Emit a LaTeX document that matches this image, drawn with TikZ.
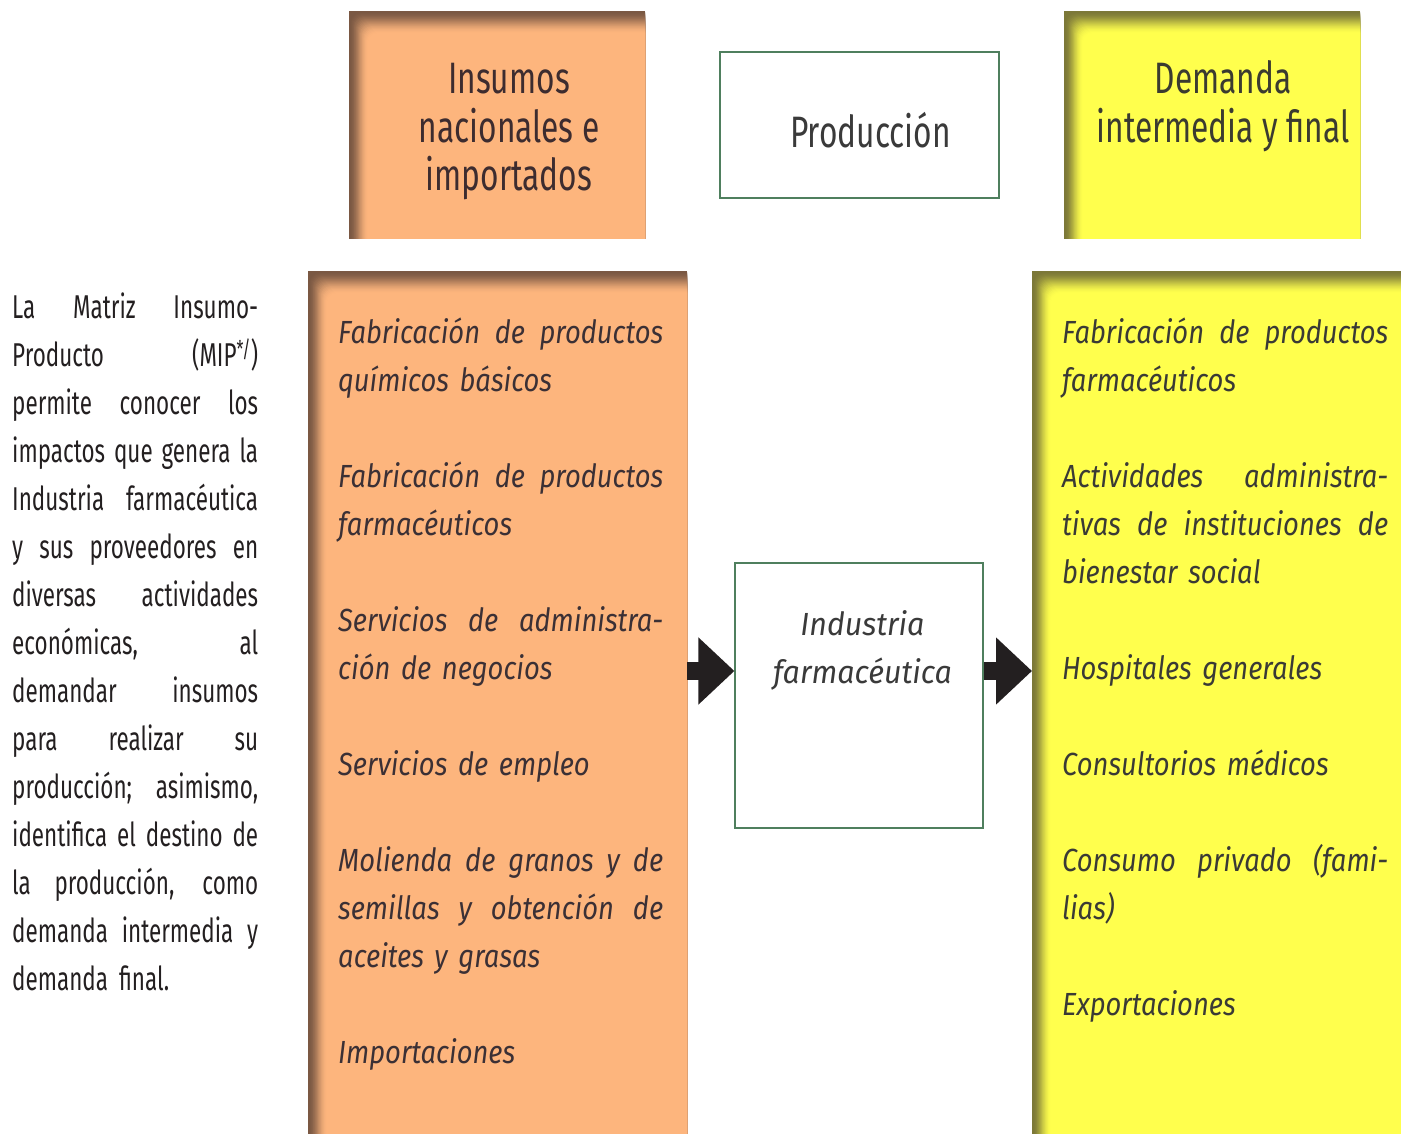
\documentclass[tikz,border=0pt]{standalone}
\usepackage{fontspec}
\setmainfont{Fira Sans}
\newfontfamily\condfont[FakeStretch=0.72]{Fira Sans}
\newfontfamily\parfont[FakeStretch=0.68]{Fira Sans}
\newfontfamily\itfont[FakeStretch=0.855]{Fira Sans}
\newfontfamily\itwide[FakeStretch=0.95]{Fira Sans}
\usetikzlibrary{arrows.meta}
\definecolor{orangefill}{HTML}{FDB57D}
\definecolor{orangedark}{HTML}{7A5843}
\definecolor{yellowfill}{HTML}{FFFF4D}
\definecolor{yellowdark}{HTML}{7C7838}
\definecolor{boxgreen}{HTML}{4F7F5E}
\definecolor{txtbrown}{HTML}{3D2C2F}
\definecolor{txtolive}{HTML}{3B3B30}
\definecolor{txtgray}{HTML}{3A3A3A}
\definecolor{itorange}{HTML}{3B3035}
\definecolor{ityellow}{HTML}{3A3A35}
\definecolor{arrowblack}{HTML}{231F20}
\newcommand\innershadow[6]{%
  \fill[#6] (#1,#2) rectangle (#3,#4);
  \foreach \i in {1,...,22}{%
    \pgfmathsetmacro\tt{\i/22}%
    \pgfmathtruncatemacro\pp{100*(3*\tt*\tt-2*\tt*\tt*\tt)}%
    \fill[#5!\pp!#6] ({#1+0.85*\i},#4) -- ({#1+0.85*\i},{#2+\i+10}) arc[start angle=180,end angle=270,radius=10] -- (#3,{#2+\i}) -- (#3,#4) -- cycle;
  }%
}
\tikzset{
  area/.style={inner sep=0pt, outer sep=0pt},
  frame/.style={draw=boxgreen, line width=1.2pt, fill=white, inner sep=0pt},
  hdrtext/.style={inner sep=0pt, align=center, font=\condfont\fontsize{44}{48}\selectfont},
  partext/.style={inner sep=0pt, anchor=north west, text width=246pt, align=left, text=arrowblack, font=\parfont\fontsize{33}{48}\selectfont},
  itemL/.style={inner sep=0pt, anchor=north west, text width=325pt, align=left, text=itorange, font=\itfont\itshape\fontsize{32}{48}\selectfont},
  itemR/.style={inner sep=0pt, anchor=north west, text width=326pt, align=left, text=ityellow, font=\itfont\itshape\fontsize{32}{48}\selectfont},
  bigarrow/.style={draw=arrowblack, line width=18pt, -{Triangle[length=36pt,width=65pt]}}
}
\newcommand\jl[2]{\leavevmode\strut\hbox to #1pt{\spaceskip=\fontdimen2\font plus 1fil minus \fontdimen4\font\relax #2}}
\begin{document}
\begin{tikzpicture}[x=1pt,y=-1pt]
\useasboundingbox (0,0) rectangle (1401,1134);
% backgrounds with inner shadow
\innershadow{349}{11}{645}{239}{orangefill}{orangedark}
\innershadow{1064}{11}{1360}{239}{yellowfill}{yellowdark}
\innershadow{308}{271}{687}{1134}{orangefill}{orangedark}
\innershadow{1032}{271}{1401}{1134}{yellowfill}{yellowdark}
% named areas
\node[area, minimum width=296pt, minimum height=228pt] (insumos) at (497,125) {};
\node[area, minimum width=296pt, minimum height=228pt] (demanda) at (1212,125) {};
\node[area, minimum width=379pt, minimum height=863pt] (inbig) at (497.5,702.5) {};
\node[area, minimum width=369pt, minimum height=863pt] (dembig) at (1216.5,702.5) {};
\node[frame, minimum width=279pt, minimum height=146pt] (produccion) at (859.5,125) {};
\node[frame, minimum width=248pt, minimum height=265pt] (ind) at (859,695.5) {};
% header texts
\node[hdrtext, text=txtbrown, anchor=north] (insumosT) at (509,59.4) {\strut Insumos\\nacionales e\\importados};
\node[hdrtext, text=txtolive, anchor=north] (demandaT) at (1223,59.4) {\strut Demanda\\intermedia y final};
\node[inner sep=0pt, anchor=base, text=txtgray, font=\condfont\fontsize{44}{48}\selectfont] (produccionT) at (870.5,148) {Producción};
% paragraph
\node[partext] (par) at (12,284.4) {\jl{246}{La Matriz Insumo-}\\
\jl{246}{Producto (MIP\textsuperscript{*/})}\\
\jl{246}{permite conocer los}\\
\jl{246}{impactos que genera la}\\
\jl{246}{Industria farmacéutica}\\
\jl{246}{y sus proveedores en}\\
\jl{246}{diversas actividades}\\
\jl{246}{económicas, al}\\
\jl{246}{demandar insumos}\\
\jl{246}{para realizar su}\\
\jl{246}{producción; asimismo,}\\
\jl{246}{identifica el destino de}\\
\jl{246}{la producción, como}\\
\jl{246}{demanda intermedia y}\\
demanda final.};
% left items
\node[itemL] (l1) at (338,309.4) {\jl{325}{Fabricación de productos}\\químicos básicos};
\node[itemL] (l2) at (338,453.4) {\jl{325}{Fabricación de productos}\\farmacéuticos};
\node[itemL] (l3) at (338,597.4) {\jl{325}{Servicios de administra-}\\ción de negocios};
\node[itemL] (l4) at (338,741.4) {\strut Servicios de empleo};
\node[itemL] (l5) at (338,837.4) {\jl{325}{Molienda de granos y de}\\\jl{325}{semillas y obtención de}\\aceites y grasas};
\node[itemL] (l6) at (338,1029.4) {\strut Importaciones};
% right items
\node[itemR] (r1) at (1062,309.4) {\jl{326}{Fabricación de productos}\\farmacéuticos};
\node[itemR] (r2) at (1062,453.4) {\jl{326}{Actividades administra-}\\\jl{326}{tivas de instituciones de}\\bienestar social};
\node[itemR] (r3) at (1062,645.4) {\strut Hospitales generales};
\node[itemR] (r4) at (1062,741.4) {\strut Consultorios médicos};
\node[itemR] (r5) at (1062,837.4) {\jl{326}{Consumo privado (fami-}\\lias)};
\node[itemR] (r6) at (1062,981.4) {\strut Exportaciones};
% production box text
\node[inner sep=0pt, anchor=north, align=center, text=txtgray, font=\itwide\itshape\fontsize{32}{48}\selectfont] (indT) at (862.5,601.4) {\strut Industria\\farmacéutica};
% arrows
\coordinate (arrowy) at (0,671);
\draw[bigarrow] (inbig.east |- arrowy) -- (ind.west |- arrowy);
\draw[bigarrow] (ind.east |- arrowy) -- (dembig.west |- arrowy);
\end{tikzpicture}
\end{document}
